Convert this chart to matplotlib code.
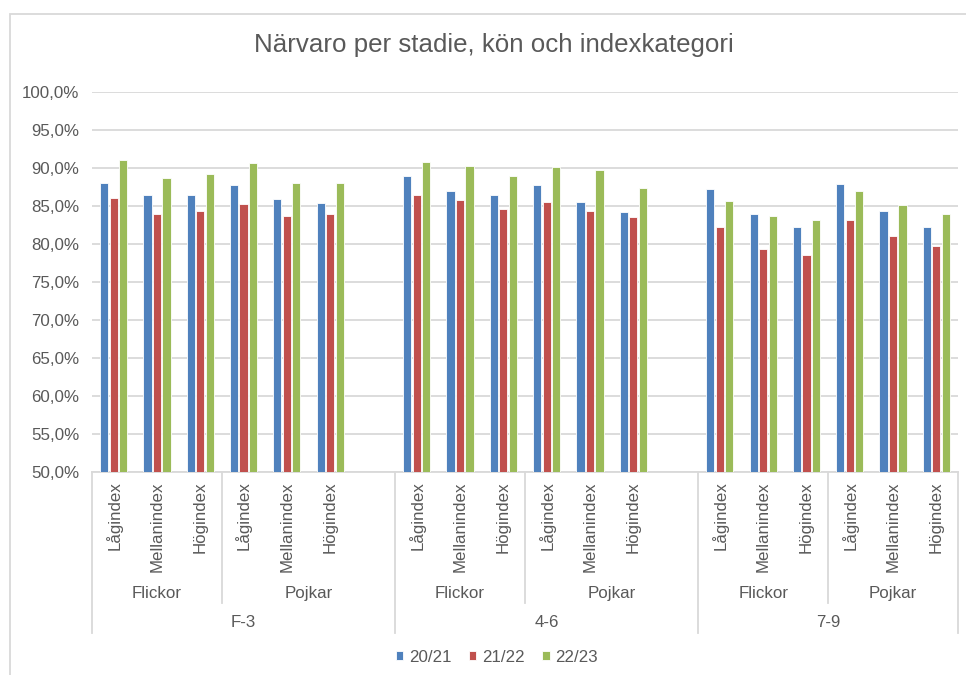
import matplotlib
matplotlib.use("Agg")
import matplotlib.pyplot as plt
import matplotlib.transforms as mtransforms
from matplotlib.patches import Rectangle
from matplotlib.ticker import FuncFormatter

plt.rcParams['font.family'] = ['Liberation Sans', 'DejaVu Sans']

stages = ["F-3", "4-6", "7-9"]
genders = ["Flickor", "Pojkar"]
indexes = ["Lågindex", "Mellanindex", "Högindex"]
series = ["20/21", "21/22", "22/23"]
colors = ["#4F81BD", "#C0504D", "#9BBB59"]

# values per stage, in order: Flickor(Låg, Mellan, Hög), Pojkar(Låg, Mellan, Hög)
v_2021 = {
    "F-3": [88.0, 86.4, 86.4, 87.7, 85.9, 85.4],
    "4-6": [88.9, 87.0, 86.4, 87.8, 85.5, 84.2],
    "7-9": [87.3, 83.9, 82.2, 87.9, 84.4, 82.2],
}
v_2122 = {
    "F-3": [86.0, 84.0, 84.3, 85.3, 83.7, 83.9],
    "4-6": [86.5, 85.8, 84.6, 85.5, 84.4, 83.6],
    "7-9": [82.2, 79.3, 78.6, 83.1, 81.0, 79.7],
}
v_2223 = {
    "F-3": [91.0, 88.7, 89.2, 90.6, 88.0, 88.0],
    "4-6": [90.8, 90.2, 89.0, 90.1, 89.8, 87.4],
    "7-9": [85.7, 83.7, 83.1, 87.0, 85.1, 84.0],
}
all_vals = [v_2021, v_2122, v_2223]

W, H = 966, 675
fig = plt.figure(figsize=(W / 100, H / 100), dpi=100)

def fy(py):
    return 1 - py / H

def fx(px):
    return px / W

ax_l, ax_r, ax_t, ax_b = 92, 958, 92, 472
ax = fig.add_axes([fx(ax_l), fy(ax_b), fx(ax_r) - fx(ax_l), fy(ax_t) - fy(ax_b)])

# slot positions: stages F-3 and 4-6 have a trailing empty slot
slot_starts = {"F-3": 0, "4-6": 7, "7-9": 14}
offsets = [-0.22, 0.0, 0.22]
bw = 0.19
for si, (name, vals) in enumerate(zip(series, all_vals)):
    xs, ys = [], []
    for st in stages:
        for k, v in enumerate(vals[st]):
            xs.append(slot_starts[st] + k + offsets[si])
            ys.append(v)
    ax.bar(xs, [y - 50 for y in ys], bottom=50, width=bw, color=colors[si],
           edgecolor="white", linewidth=0.6, label=name, zorder=3)

fs = 12.2
ax.set_xlim(-0.5, 19.5)
ax.set_ylim(50, 100)
ax.set_yticks(range(50, 101, 5))
ax.yaxis.set_major_formatter(FuncFormatter(lambda v, p: f"{v:.1f}%".replace(".", ",")))
ax.tick_params(axis='y', length=0, pad=9, labelsize=fs, labelcolor="#595959")
ax.set_xticks([])
ax.grid(axis='y', color="#D9D9D9", linewidth=1.3, zorder=0)
for s in ["top", "right", "left"]:
    ax.spines[s].set_visible(False)
ax.spines["bottom"].set_color("#D9D9D9")
ax.spines["bottom"].set_linewidth(1.3)

# multi-level category axis
tr = mtransforms.blended_transform_factory(ax.transData, fig.transFigure)
lc = "#D9D9D9"
tc = "#595959"
for st in stages:
    s0 = slot_starts[st]
    nslots = 7 if st != "7-9" else 6
    for gi, g in enumerate(genders):
        for k, ix in enumerate(indexes):
            ax.text(s0 + gi * 3 + k, fy(481), ix, rotation=90, ha='center', va='top',
                    fontsize=fs, color=tc, transform=tr)
        g0 = s0 + gi * 3 - 0.5
        g1 = g0 + 3 if gi == 0 else s0 + nslots - 0.5
        ax.text((g0 + g1) / 2, fy(598), g, ha='center', va='baseline', fontsize=fs,
                color=tc, transform=tr)
    # gender divider
    xd = s0 + 3 - 0.5
    ax.plot([xd, xd], [fy(ax_b), fy(603)], color=lc, lw=1.3, transform=tr, clip_on=False)
    # stage label
    ax.text(s0 - 0.5 + nslots / 2, fy(627), st, ha='center', va='baseline', fontsize=fs,
            color=tc, transform=tr)
for xd in [-0.5, 6.5, 13.5, 19.5]:
    ax.plot([xd, xd], [fy(ax_b), fy(633)], color=lc, lw=1.3, transform=tr, clip_on=False)

fig.text(fx(494), fy(45), "Närvaro per stadie, kön och indexkategori", ha='center', va='center',
         fontsize=18.6, color=tc)

leg = fig.legend(loc='center', bbox_to_anchor=(fx(497), fy(657)), ncol=3, frameon=False,
                 fontsize=fs, handlelength=0.45, handleheight=0.45, handletextpad=0.35,
                 columnspacing=1.0, labelcolor=tc)

# chart area frame
fig.patches.append(Rectangle((fx(10), fy(700)), fx(980) - fx(10), fy(14) - fy(700),
                             transform=fig.transFigure, fill=False, edgecolor="#D9D9D9",
                             linewidth=1.3))

fig.savefig("out.png", dpi=100, facecolor="white")
